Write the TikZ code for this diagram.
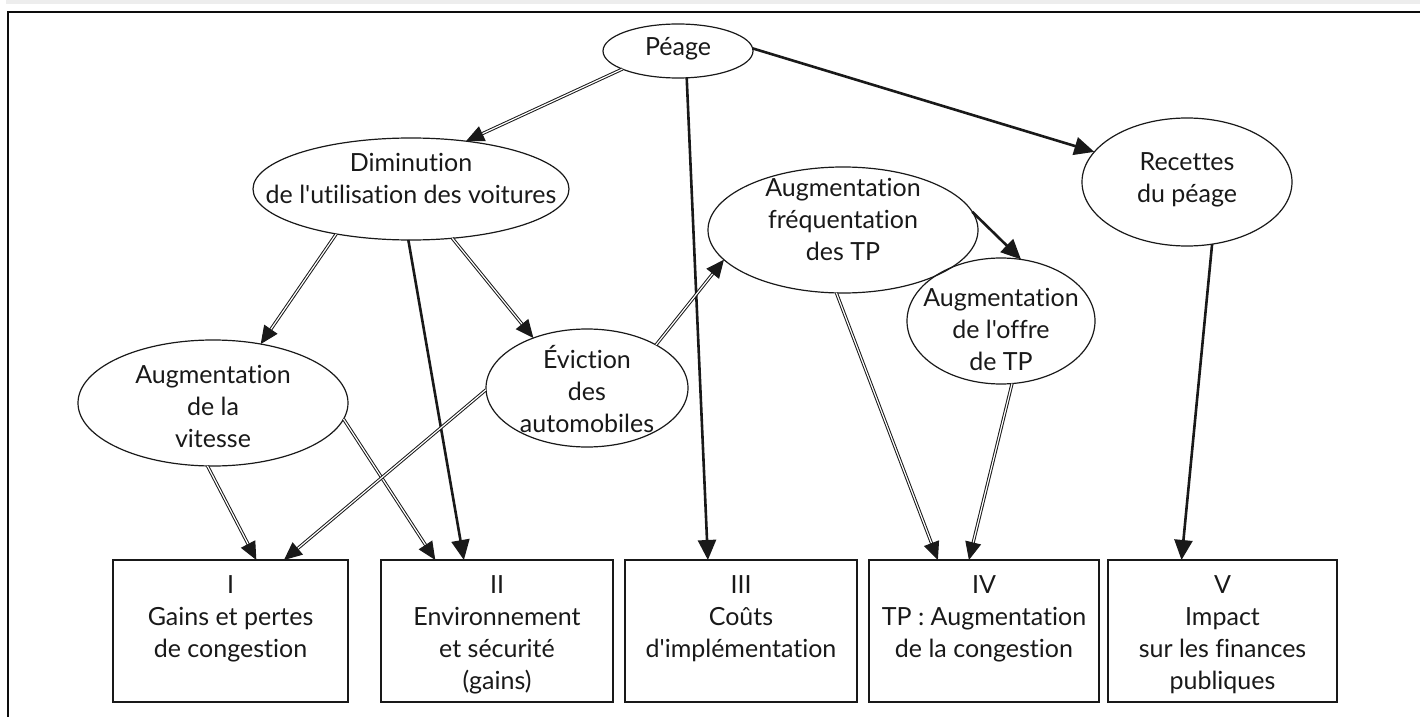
\documentclass[tikz,border=0pt]{standalone}
\usepackage{fontspec}
\newfontfamily\latofont{Lato}[Ligatures={NoCommon}]
\usetikzlibrary{arrows.meta,shapes.geometric}
\begin{document}
\begin{tikzpicture}[x=0.5pt,y=-0.5pt,
  every node/.style={inner sep=0pt,outer sep=0pt},
  ell/.style={draw=black!90,line width=0.6pt,ellipse},
  txt/.style={align=center,text=black!90,font=\latofont\fontsize{12.5pt}{16pt}\selectfont},
  box/.style={draw=black!90,line width=0.7pt,rectangle,minimum height=71pt},
  solidarr/.style={line width=1.3pt,black!90,-{Triangle[length=10pt,width=9pt]}},
  dblarr/.style={line width=0.5pt,double=white,double distance=0.6pt,black!90,-{Triangle[length=9pt,width=8pt]}}
]
\useasboundingbox (0,0) rectangle (1420,717);
% page band and frame
\fill[black!7] (6,0) rectangle (1420,4.5);
\draw[line width=1pt,black!95] (7.5,717) -- (7.5,12) -- (1420,12);

% ellipses
\node[ell,minimum width=75pt,minimum height=27pt] (peage) at (678,51) {};
\node[txt] (tpeage) at (678,49) {Péage};
\node[ell,minimum width=158pt,minimum height=51pt] (dimin) at (411,189) {};
\node[txt] (tdimin) at (411,178) {Diminution\\de l'utilisation des voitures};
\node[ell,minimum width=135pt,minimum height=63pt] (vit) at (213,403) {};
\node[txt] (tvit) at (213,406) {Augmentation\\de la\\vitesse};
\node[ell,minimum width=101pt,minimum height=59pt] (evic) at (587,388) {};
\node[txt] (tevic) at (587,389) {Éviction\\des\\automobiles};
\node[ell,minimum width=135pt,minimum height=63pt] (freq) at (843,230) {};
\node[txt] (tfreq) at (843,219) {Augmentation\\fréquentation\\des TP};
\node[ell,minimum width=94pt,minimum height=63pt] (offre) at (1001,321) {};
\node[txt] (toffre) at (1001,329) {Augmentation\\de l'offre\\de TP};
\node[ell,minimum width=105pt,minimum height=64pt] (rec) at (1187,182) {};
\node[txt] (trec) at (1187,180) {Recettes\\du péage};

% boxes
\node[box,minimum width=117.5pt] (b1) at (230.5,631) {};
\node[box,minimum width=116pt] (b2) at (497,631) {};
\node[box,minimum width=116pt] (b3) at (741,631) {};
\node[box,minimum width=115pt] (b4) at (984,631) {};
\node[box,minimum width=114.5pt] (b5) at (1222.5,631) {};
\node[txt,anchor=north] (tb1) at (230.5,576) {I\\Gains et pertes\\de congestion};
\node[txt,anchor=north] (tb2) at (497,576) {II\\Environnement\\et sécurité\\(gains)};
\node[txt,anchor=north] (tb3) at (741,576) {III\\Coûts\\d'implémentation};
\node[txt,anchor=north] (tb4) at (984,576) {IV\\TP : Augmentation\\de la congestion};
\node[txt,anchor=north] (tb5) at (1222.5,576) {V\\Impact\\sur les finances\\publiques};

% connectors
\draw[dblarr] (peage.198) -- (dimin.41.4);
\draw[solidarr] (peage.-72.5) -- (b3.115.6);
\draw[solidarr] (peage.2.3) -- (rec.162.5);
\draw[dblarr] (dimin.-149.3) -- (vit.51.3);
\draw[solidarr] (dimin.-93.5) -- (b2.115.6);
\draw[dblarr] (dimin.-50.9) -- (evic.137.5);
\draw[dblarr] (vit.-95.4) -- (b1.70);
\draw[dblarr] (vit.-7.3) -- (b2.131.7);
\draw[dblarr] (evic.181) -- (b1.53.3);
\draw[dblarr] (evic.32.6) -- (freq.194.2);
\draw[solidarr] (freq.8.6) -- (offre.72.2);
\draw[dblarr] (freq.-96.3) -- (b4.123.9);
\draw[dblarr] (offre.-80.2) -- (b4.102.4);
\draw[solidarr] (rec.-68.2) -- (b5.120.2);
\end{tikzpicture}
\end{document}
